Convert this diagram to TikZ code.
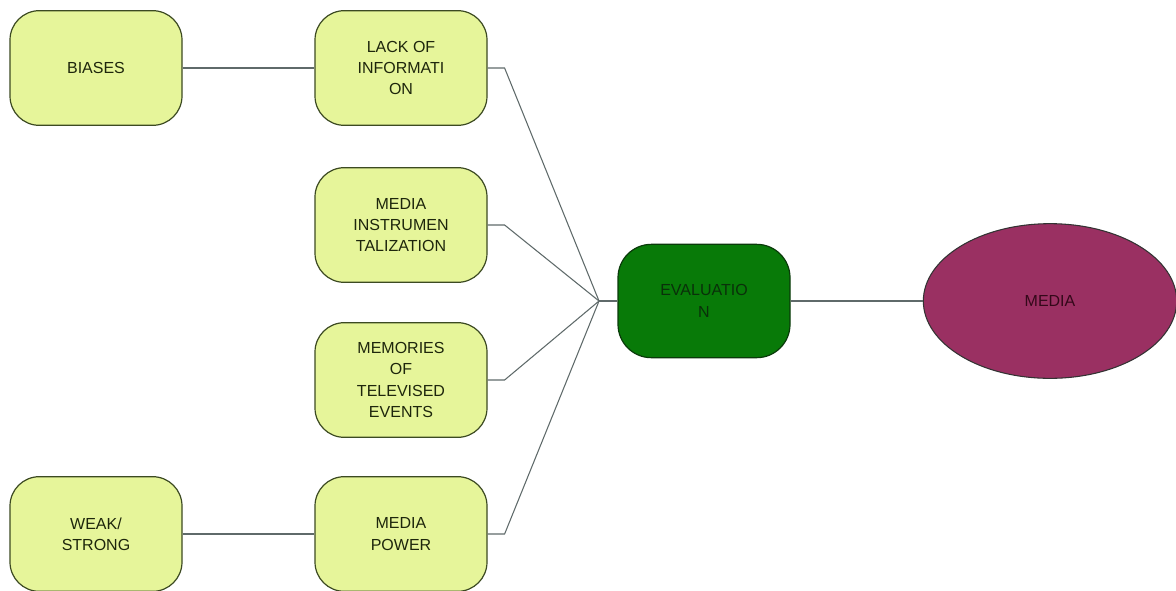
\documentclass[tikz,border=0pt]{standalone}
\usepackage{fontspec}
\setmainfont{Liberation Sans}
\usetikzlibrary{shapes.geometric}
\definecolor{leaf}{HTML}{E6F59A}
\definecolor{leafline}{HTML}{3C4A22}
\definecolor{leaftext}{HTML}{1E260C}
\definecolor{evalfill}{HTML}{087A08}
\definecolor{evalline}{HTML}{0A3A0A}
\definecolor{evaltext}{HTML}{0A300A}
\definecolor{mediafill}{HTML}{9A3062}
\definecolor{mediatext}{HTML}{34081A}
\definecolor{wire}{HTML}{5F6A6A}
\tikzset{
    leafbox/.style={draw=leafline, fill=leaf, line width=0.9pt,
        rounded corners=22pt, minimum width=129pt, minimum height=86pt,
        align=center, text=leaftext, font=\fontsize{12}{16}\selectfont},
    evalbox/.style={leafbox, draw=evalline, fill=evalfill, text=evaltext,
        minimum height=85pt, rounded corners=25pt},
    mediabox/.style={ellipse, draw=black!80, fill=mediafill, line width=0.8pt,
        minimum width=190pt, minimum height=116pt, inner sep=0pt,
        text=mediatext, font=\fontsize{12}{16}\selectfont},
    wireline/.style={draw=wire, line width=0.8pt}
}
\begin{document}
\begin{tikzpicture}[x=0.75pt, y=-0.75pt]
    \useasboundingbox (0, 0) rectangle (1176, 590);

    % left column
    \path (96, 68) node [leafbox] (bi) {BIASES};
    \path (96, 534) node [leafbox] (ws) {WEAK/\\STRONG};

    % middle column
    \path (401, 68) node [leafbox] (lo) {LACK OF\\INFORMATI\\ON};
    \path (401, 225) node [leafbox] (mi) {MEDIA\\INSTRUMEN\\TALIZATION};
    \path (401, 380) node [leafbox] (me) {MEMORIES\\OF\\TELEVISED\\EVENTS};
    \path (401, 534) node [leafbox] (mp) {MEDIA\\POWER};

    % right side
    \path (704, 301) node [evalbox] (ev) {EVALUATIO\\N};
    \path (1050, 301) node [mediabox] (md) {MEDIA};
    \coordinate (hub) at (599, 301);

    \draw [wireline] (bi) -- (lo);
    \draw [wireline] (ws) -- (mp);
    \draw [wireline] (lo.east) -- ++(17, 0) -- (hub);
    \draw [wireline] (mi.east) -- ++(17, 0) -- (hub);
    \draw [wireline] (me.east) -- ++(17, 0) -- (hub);
    \draw [wireline] (mp.east) -- ++(17, 0) -- (hub);
    \draw [wireline, line width=1.4pt] (hub) -- (ev.west);
    \draw [wireline] (ev) -- (md);
\end{tikzpicture}
\end{document}
